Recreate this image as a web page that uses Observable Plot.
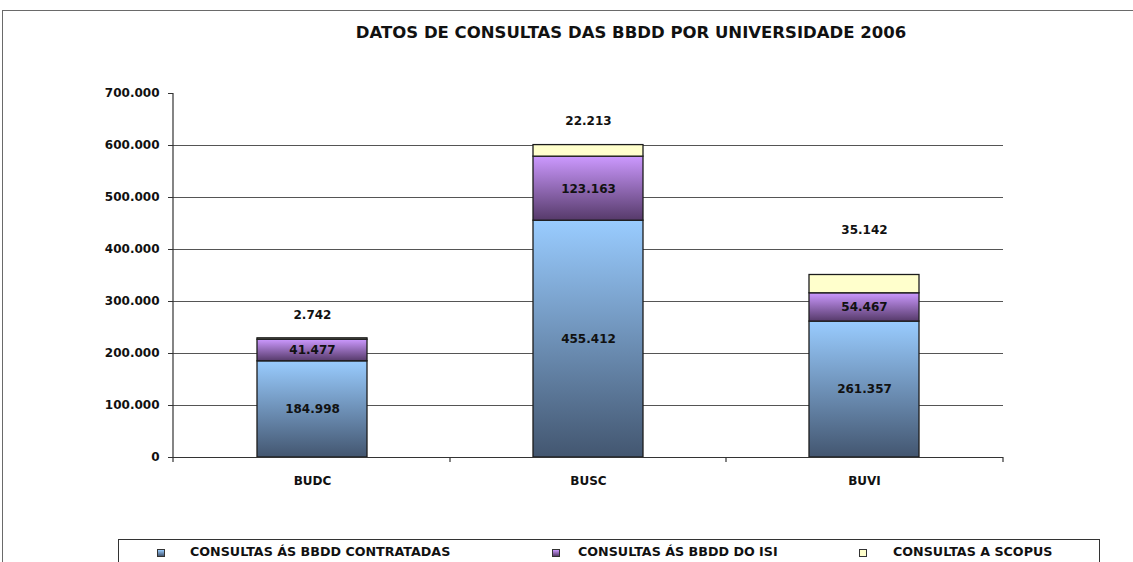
<!DOCTYPE html>
<html><head><meta charset="utf-8">
<script src="https://cdn.jsdelivr.net/npm/d3@7"></script>
<script src="https://cdn.jsdelivr.net/npm/@observablehq/plot@0.6"></script>
<style>
body{margin:0;background:#fff;width:1133px;height:562px;overflow:hidden;position:relative;font-family:"DejaVu Sans",sans-serif;color:#111;}
#frame{position:absolute;left:2px;top:10px;width:1200px;height:600px;border:1px solid #6a6a6a;}
#title{position:absolute;top:24px;left:0;width:1262px;text-align:center;font-weight:bold;font-size:16.5px;line-height:18px;}
#chart{position:absolute;left:0;top:60px;}
#legend{position:absolute;left:118px;top:539px;width:980px;height:40px;border:1px solid #333;background:#fff;}
.item{position:absolute;top:5px;font-weight:bold;font-size:12.7px;line-height:14px;white-space:nowrap;}
.sw{position:absolute;top:9px;width:6px;height:6px;border:1px solid #333;}
</style></head>
<body>
<div id="frame"></div>
<div id="title"></div>
<div id="chart"></div>
<div id="legend"></div>
<script>
const title = "DATOS DE CONSULTAS DAS BBDD POR UNIVERSIDADE 2006";
const categories = ["BUDC", "BUSC", "BUVI"];
const seriesNames = ["CONSULTAS ÁS BBDD CONTRATADAS", "CONSULTAS ÁS BBDD DO ISI", "CONSULTAS A SCOPUS"];
const contratadas = [184998, 455412, 261357];
const isi = [41477, 123163, 54467];
const scopus = [2742, 22213, 35142];
const yTicks = [0, 100000, 200000, 300000, 400000, 500000, 600000, 700000];

const seriesValues = [contratadas, isi, scopus];
const data = categories.flatMap((c, i) => seriesNames.map((s, j) => ({cat: c, series: s, value: seriesValues[j][i]})));
const fmt = d => d3.format(",")(d).replace(/,/g, ".");

document.getElementById("title").textContent = title;

const fills = ["url(#gBlue)", "url(#gPurple)", "#ffffcc"];
const scopusDy = [-23, -24, -45];

const plot = Plot.plot({
  width: 1133, height: 440,
  marginLeft: 173, marginRight: 130, marginTop: 33, marginBottom: 43,
  style: {fontFamily: "DejaVu Sans, sans-serif", fontSize: "11px", fontWeight: "bold", color: "#111", background: "transparent"},
  x: {domain: categories, paddingInner: 0.603, paddingOuter: 0.3015, label: null},
  y: {domain: [0, 700000], label: null},
  color: {domain: seriesNames, range: fills},
  marks: [
    Plot.ruleY(yTicks.filter(t => t > 0 && t < 700000), {stroke: "#555", strokeWidth: 1.2}),
    Plot.barY(data, Plot.stackY({x: "cat", y: "value", fill: "series", stroke: "#1c1c1c", strokeWidth: 1.3})),
    Plot.text(data.filter(d => d.series !== seriesNames[2]), Plot.stackY({x: "cat", y: "value", text: d => fmt(d.value), fill: "#111", fontWeight: "bold", fontSize: 12})),
    ...categories.map((c, i) => Plot.text(data, Plot.stackY2({x: "cat", y: "value", text: d => (d.series === seriesNames[2] && d.cat === c) ? fmt(d.value) : "", dy: scopusDy[i], fill: "#111", fontWeight: "bold", fontSize: 12}))),
    Plot.ruleY([0], {stroke: "#333", strokeWidth: 1.2}),
    Plot.axisY({ticks: yTicks, tickFormat: fmt, tickSize: 5, tickPadding: 9, fontSize: 12, fontWeight: "bold", stroke: "#333", fill: "#111"}),
    Plot.axisX({tickSize: 0, tickPadding: 19, fontSize: 12, fontWeight: "bold", fill: "#111"})
  ]
});

// gradients + axis line + band boundary ticks using the plot's own scales
const svg = d3.select(plot);
const defs = svg.insert("defs", ":first-child");
function grad(id, top, bottom) {
  const g = defs.append("linearGradient").attr("id", id).attr("x1", 0).attr("y1", 0).attr("x2", 0).attr("y2", 1);
  g.append("stop").attr("offset", "0%").attr("stop-color", top);
  g.append("stop").attr("offset", "100%").attr("stop-color", bottom);
}
grad("gBlue", "#99ccff", "#435670");
grad("gPurple", "#cc99ff", "#563a6a");

const xs = plot.scale("x"), ys = plot.scale("y");
const y0 = ys.apply(0), yTop = ys.apply(700000);
const step = xs.step;
const x0 = xs.range[0];
svg.append("line").attr("x1", x0).attr("x2", x0).attr("y1", yTop).attr("y2", y0).attr("stroke", "#333").attr("stroke-width", 1.2);
for (let k = 0; k <= categories.length; k++) {
  const xx = k === categories.length ? xs.range[1] : (k === 0 ? x0 : xs.apply(categories[k]) - (step - xs.bandwidth) / 2);
  svg.append("line").attr("x1", xx).attr("x2", xx).attr("y1", y0).attr("y2", y0 + 5).attr("stroke", "#333").attr("stroke-width", 1.2);
}
document.getElementById("chart").appendChild(plot);

// legend
const legend = document.getElementById("legend");
const swatchBg = ["linear-gradient(#99ccff,#435670)", "linear-gradient(#cc99ff,#563a6a)", "#ffffcc"];
const swX = [38, 433, 740];
const txX = [71, 459, 774];
seriesNames.forEach((s, i) => {
  const sw = document.createElement("div"); sw.className = "sw";
  sw.style.left = swX[i] + "px"; sw.style.background = swatchBg[i];
  legend.appendChild(sw);
  const t = document.createElement("div"); t.className = "item";
  t.style.left = txX[i] + "px"; t.textContent = s;
  legend.appendChild(t);
});
</script>
</body></html>
